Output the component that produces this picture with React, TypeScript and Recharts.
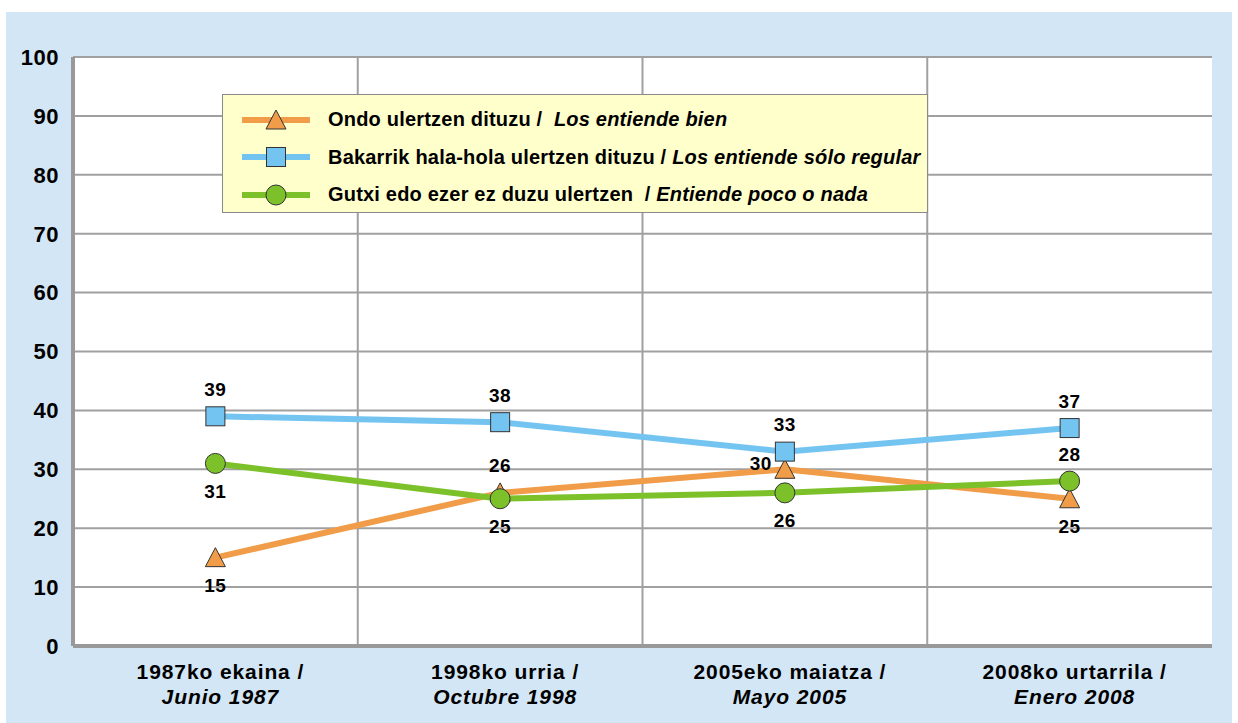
import { LineChart, Line, XAxis, YAxis, CartesianGrid, Legend, LabelList } from "recharts"

const periodsEu = ["1987ko ekaina /", "1998ko urria /", "2005eko maiatza /", "2008ko urtarrila /"]
const periodsEs = ["Junio 1987", "Octubre 1998", "Mayo 2005", "Enero 2008"]
const ondo = [15, 26, 30, 25]
const regular = [39, 38, 33, 37]
const gutxi = [31, 25, 26, 28]
const yTicks = [0, 10, 20, 30, 40, 50, 60, 70, 80, 90, 100]

// where each value label sits relative to its point
const ondoLabelPos = ["below", "above", "left", "below"]
const regularLabelPos = ["above", "above", "above", "above"]
const gutxiLabelPos = ["below", "below", "below", "above"]

const data = periodsEu.map((p, i) => ({
  period: p,
  ondo: ondo[i],
  regular: regular[i],
  gutxi: gutxi[i],
}))

const FONT = "'Liberation Sans', Arial, sans-serif"
const ORANGE = "#F09C48"
const BLUE = "#74C4F2"
const GREEN = "#7CC12A"
const GRID = "#A0A0A0"

const series = [
  { key: "ondo", color: ORANGE, shape: "triangle", eu: "Ondo ulertzen dituzu /  ", es: "Los entiende bien", pos: ondoLabelPos },
  { key: "regular", color: BLUE, shape: "square", eu: "Bakarrik hala-hola ulertzen dituzu / ", es: "Los entiende sólo regular", pos: regularLabelPos },
  { key: "gutxi", color: GREEN, shape: "circle", eu: "Gutxi edo ezer ez duzu ulertzen  / ", es: "Entiende poco o nada", pos: gutxiLabelPos },
]

function Marker({ cx, cy, shape, color }: any) {
  if (cx == null || cy == null) return null
  if (shape === "triangle") {
    return <polygon points={`${cx},${cy - 10} ${cx + 10},${cy + 9} ${cx - 10},${cy + 9}`} fill={color} stroke="#333" strokeWidth={1} />
  }
  if (shape === "square") {
    return <rect x={cx - 9.5} y={cy - 9.5} width={19} height={19} fill={color} stroke="#333" strokeWidth={1} />
  }
  return <circle cx={cx} cy={cy} r={10} fill={color} stroke="#333" strokeWidth={1} />
}

function makeLabel(pos: string[]) {
  return (props: any) => {
    const { x, y, value, index } = props
    const p = pos[index]
    let dx = 0
    let dy = 0
    if (p === "above") dy = -27
    if (p === "below") dy = 28
    if (p === "left") {
      dx = -24
      dy = -6
    }
    return (
      <text x={x + dx} y={y + dy} textAnchor="middle" dominantBaseline="central" fontFamily={FONT} fontWeight="bold" fontSize={19} letterSpacing={0.5} fill="#000">
        {value}
      </text>
    )
  }
}

function XTick({ x, y, payload, index }: any) {
  return (
    <text x={x + 5} y={y} textAnchor="middle" fontFamily={FONT} fontWeight="bold" fontSize={21} letterSpacing={0.9} fill="#000">
      <tspan x={x + 5} dy={31}>{payload.value}</tspan>
      <tspan x={x + 5} dy={25} fontStyle="italic">{periodsEs[index]}</tspan>
    </text>
  )
}

function LegendBox() {
  return (
    <div
      style={{
        width: 706,
        height: 119,
        boxSizing: "border-box",
        background: "#FFFFCC",
        border: "1px solid #8a8a8a",
        paddingTop: 6,
        fontFamily: FONT,
        fontWeight: "bold",
        fontSize: 20,
        letterSpacing: 0.2,
        color: "#000",
      }}
    >
      {series.map((s) => (
        <div key={s.key} style={{ display: "flex", alignItems: "center", height: 37.5 }}>
          <svg width={70} height={26} style={{ marginLeft: 19, marginRight: 16 }}>
            <line x1={0} y1={13} x2={68} y2={13} stroke={s.color} strokeWidth={6} />
            <Marker cx={34} cy={13} shape={s.shape} color={s.color} />
          </svg>
          <span style={{ whiteSpace: "pre" }}>
            {s.eu}
            <i>{s.es}</i>
          </span>
        </div>
      ))}
    </div>
  )
}

export default function App() {
  return (
    <div style={{ position: "absolute", left: 0, top: 0, width: 1238, height: 723, background: "#fff" }}>
      <div style={{ position: "absolute", left: 6, top: 12, width: 1226, height: 711, background: "#D3E6F5" }} />
      <div style={{ position: "absolute", left: 0, top: 0 }}>
        <LineChart width={1238} height={723} data={data} margin={{ top: 57, right: 26, left: 13, bottom: 7 }}>
          <CartesianGrid
            fill="#fff"
            stroke={GRID}
            strokeWidth={2}
            verticalCoordinatesGenerator={({ offset }: any) =>
              periodsEu.slice(1).map((_, i) => offset.left + (offset.width * (i + 1)) / periodsEu.length)
            }
          />
          <XAxis
            dataKey="period"
            scale="band"
            height={70}
            axisLine={{ stroke: "#999", strokeWidth: 4 }}
            tickLine={false}
            tickSize={0}
            tick={<XTick />}
            interval={0}
          />
          <XAxis xAxisId="top" dataKey="period" scale="band" orientation="top" height={0} tick={false} tickLine={false} axisLine={{ stroke: "#999", strokeWidth: 3 }} />
          <YAxis
            domain={[0, 100]}
            ticks={yTicks}
            width={60}
            interval={0}
            axisLine={{ stroke: "#999", strokeWidth: 4 }}
            tickLine={false}
            tickMargin={8}
            tick={{ fontFamily: FONT, fontWeight: "bold", fontSize: 22, letterSpacing: 0.5, fill: "#000" }}
          />
          <YAxis yAxisId="right" orientation="right" domain={[0, 100]} width={0} tick={false} tickLine={false} axisLine={{ stroke: "#999", strokeWidth: 3 }} />
          <Legend layout="vertical" align="center" verticalAlign="middle" content={<LegendBox />} wrapperStyle={{ left: 222, top: 94, width: 706 }} />
          {series.map((s) => (
            <Line
              key={s.key}
              dataKey={s.key}
              stroke={s.color}
              strokeWidth={6}
              isAnimationActive={false}
              dot={<Marker shape={s.shape} color={s.color} />}
              activeDot={false}
            >
              <LabelList dataKey={s.key} content={makeLabel(s.pos)} />
            </Line>
          ))}
        </LineChart>
      </div>
    </div>
  )
}
